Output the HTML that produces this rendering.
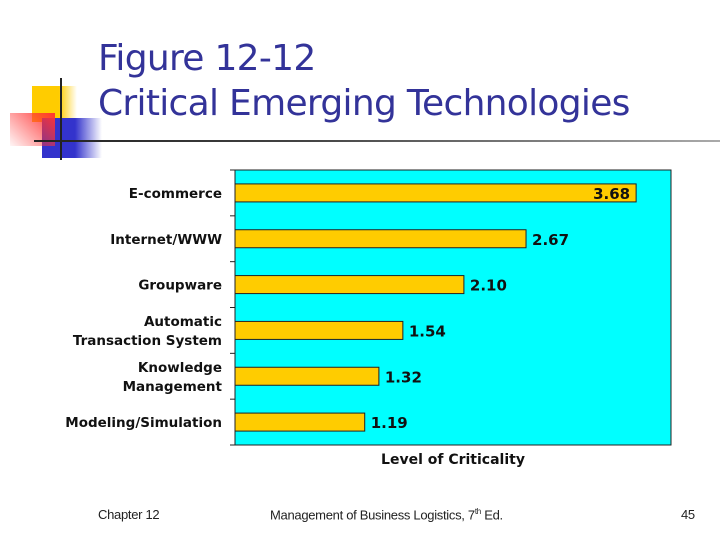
<!DOCTYPE html>
<html><head><meta charset="utf-8"><style>
body{margin:0;width:720px;height:540px;background:#fff;position:relative;overflow:hidden;font-family:"DejaVu Sans","Liberation Sans",sans-serif}
.t{position:absolute;left:98px;color:#333399;font-size:36px;font-family:"DejaVu Sans","Liberation Sans",sans-serif;white-space:nowrap;letter-spacing:-0.7px}
.f{position:absolute;top:507px;font-size:13px;color:#222;font-family:"Liberation Sans",sans-serif;letter-spacing:-0.3px}
</style></head><body>
<div>
<div style="position:absolute;left:32px;top:86px;width:45px;height:36px;background:linear-gradient(90deg,#ffcc00 60%,rgba(255,204,0,0))"></div>
<div style="position:absolute;left:42px;top:118px;width:60px;height:40px;background:linear-gradient(90deg,#3333cc 55%,rgba(51,51,204,0))"></div>
<div style="position:absolute;left:10px;top:113px;width:45px;height:33px;background:linear-gradient(225deg,#ff3333,rgba(255,80,80,0.05))"></div>
<div style="position:absolute;left:60px;top:78px;width:2px;height:82px;background:#222"></div>
<div style="position:absolute;left:34px;top:140px;width:686px;height:2px;background:linear-gradient(90deg,#222,#444 40%,#aaa)"></div>
</div>
<div class="t" style="top:38px">Figure 12-12</div>
<div class="t" style="top:83px">Critical Emerging Technologies</div>
<svg id="c" width="720" height="540" style="position:absolute;left:0;top:0"></svg>
<div class="f" style="left:98px">Chapter 12</div>
<div class="f" style="left:270px">Management of Business Logistics, 7<sup style="font-size:8px">th</sup> Ed.</div>
<div class="f" style="left:681px">45</div>
<script>
const categories=[["E-commerce"],["Internet/WWW"],["Groupware"],["Automatic","Transaction System"],["Knowledge","Management"],["Modeling/Simulation"]];
const values=[3.68,2.67,2.10,1.54,1.32,1.19];
const valueLabels=["3.68","2.67","2.10","1.54","1.32","1.19"];
const xMax=4;
const L=235,R=671,T=170,B=445;
const svg=document.getElementById('c');const NS='http://www.w3.org/2000/svg';
function x(v){return L+(R-L)*v/xMax;}
const band=(B-T)/categories.length;
function yc(i){return T+band*(i+0.5);}
function mk(t,a,p){const e=document.createElementNS(NS,t);for(const k in a)e.setAttribute(k,a[k]);(p||svg).appendChild(e);return e;}
const bg=mk('rect',{x:L,y:T,width:R-L,height:B-T,fill:'#00ffff',stroke:'#222','stroke-width':1});


const ax=mk('line',{x1:L-5,y1:B,x2:R,y2:B,stroke:'#222'});


mk('line',{x1:L,y1:T,x2:L,y2:B,stroke:'#222'});
for(let i=0;i<=categories.length;i++){const tk=mk('line',{x1:L-5,y1:T+band*i,x2:L,y2:T+band*i,stroke:'#222'});

}
const bh=18;
values.forEach((v,i)=>{const y=yc(i);
const b=mk('rect',{x:L,y:y-bh/2,width:x(v)-L,height:bh,fill:'#ffcc00',stroke:'#222','stroke-width':1});


const inside=i===0;
const t=mk('text',{x:inside?x(v)-6:x(v)+6,y:y+6,'text-anchor':inside?'end':'start','font-size':15,'font-weight':'bold',fill:'#111','font-family':'DejaVu Sans'});t.textContent=valueLabels[i];


const lines=categories[i];
lines.forEach((s,j)=>{const c=mk('text',{x:222,y:y+5+(j-(lines.length-1)/2)*19,'text-anchor':'end','font-size':13.5,'font-weight':'bold',fill:'#111','font-family':'DejaVu Sans'});c.textContent=s;

});});
const xt=mk('text',{x:453,y:464,'text-anchor':'middle','font-size':14,'font-weight':'bold',fill:'#111','font-family':'DejaVu Sans'});xt.textContent='Level of Criticality';


</script>
</body></html>
